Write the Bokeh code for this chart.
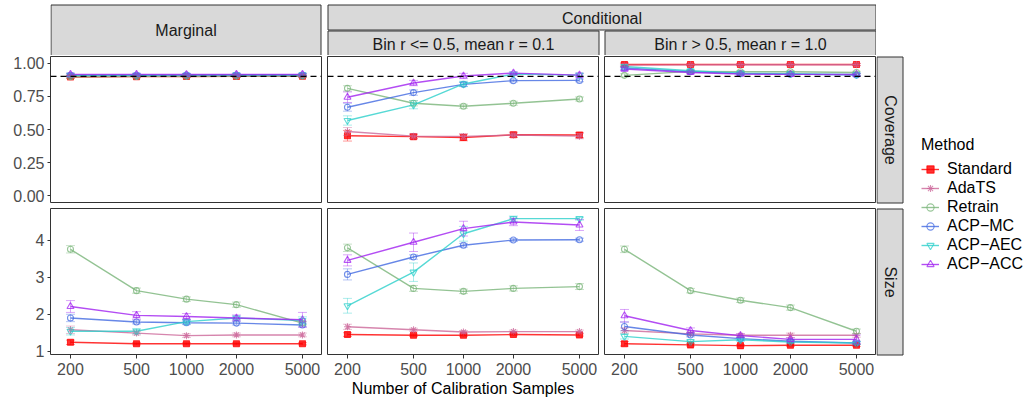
import math
from bokeh.plotting import figure
from bokeh.models import (Range1d, FixedTicker, NumeralTickFormatter, Span, Whisker, TeeHead,
                          ColumnDataSource, Legend, LegendItem)
from bokeh.layouts import row, column
from bokeh.core.properties import value
from bokeh.embed import file_html
from bokeh.resources import INLINE

# ---------------- data ----------------
N = [200, 500, 1000, 2000, 5000]
METHODS = ["Standard", "AdaTS", "Retrain", "ACP-MC", "ACP-AEC", "ACP-ACC"]
LABELS = ["Standard", "AdaTS", "Retrain", "ACP\u2212MC", "ACP\u2212AEC", "ACP\u2212ACC"]
COL_TITLES = ["Marginal", "Bin r <= 0.5, mean r = 0.1", "Bin r > 0.5, mean r = 1.0"]
GROUP_TITLE = "Conditional"
ROW_TITLES = ["Coverage", "Size"]
X_TITLE = "Number of Calibration Samples"
TARGET = 0.9
COV_TICKS = [0.0, 0.25, 0.5, 0.75, 1.0]
SIZE_TICKS = [1, 2, 3, 4]

cov_marginal = {
    "Standard": [0.895, 0.898, 0.899, 0.900, 0.901],
    "AdaTS":    [0.900, 0.901, 0.902, 0.903, 0.902],
    "Retrain":  [0.897, 0.900, 0.901, 0.902, 0.903],
    "ACP-MC":   [0.908, 0.909, 0.910, 0.911, 0.911],
    "ACP-AEC":  [0.910, 0.910, 0.911, 0.913, 0.913],
    "ACP-ACC":  [0.915, 0.915, 0.914, 0.915, 0.915],
}
cov_low = {
    "Standard": [0.453, 0.446, 0.440, 0.460, 0.458],
    "AdaTS":    [0.485, 0.450, 0.448, 0.458, 0.450],
    "Retrain":  [0.810, 0.698, 0.675, 0.698, 0.730],
    "ACP-MC":   [0.668, 0.778, 0.840, 0.868, 0.870],
    "ACP-AEC":  [0.568, 0.686, 0.843, 0.918, 0.910],
    "ACP-ACC":  [0.743, 0.850, 0.903, 0.925, 0.910],
}
cov_high = {
    "Standard": [0.990, 0.990, 0.990, 0.990, 0.990],
    "AdaTS":    [0.985, 0.987, 0.988, 0.988, 0.988],
    "Retrain":  [0.908, 0.938, 0.935, 0.935, 0.930],
    "ACP-MC":   [0.963, 0.935, 0.922, 0.917, 0.910],
    "ACP-AEC":  [0.975, 0.943, 0.925, 0.920, 0.915],
    "ACP-ACC":  [0.955, 0.930, 0.918, 0.915, 0.915],
}
size_marginal = {
    "Standard": [1.24, 1.20, 1.20, 1.20, 1.20],
    "AdaTS":    [1.58, 1.49, 1.42, 1.44, 1.44],
    "Retrain":  [3.76, 2.64, 2.41, 2.26, 1.76],
    "ACP-MC":   [1.90, 1.79, 1.77, 1.76, 1.71],
    "ACP-AEC":  [1.54, 1.54, 1.80, 1.90, 1.83],
    "ACP-ACC":  [2.21, 1.97, 1.94, 1.90, 1.85],
}
size_low = {
    "Standard": [1.45, 1.43, 1.43, 1.45, 1.44],
    "AdaTS":    [1.66, 1.58, 1.52, 1.53, 1.53],
    "Retrain":  [3.80, 2.70, 2.62, 2.70, 2.75],
    "ACP-MC":   [3.08, 3.55, 3.87, 4.01, 4.02],
    "ACP-AEC":  [2.23, 3.14, 4.18, 4.59, 4.59],
    "ACP-ACC":  [3.46, 3.95, 4.32, 4.50, 4.42],
}
size_high = {
    "Standard": [1.20, 1.17, 1.15, 1.16, 1.16],
    "AdaTS":    [1.56, 1.47, 1.43, 1.43, 1.43],
    "Retrain":  [3.76, 2.64, 2.38, 2.18, 1.54],
    "ACP-MC":   [1.67, 1.44, 1.34, 1.27, 1.22],
    "ACP-AEC":  [1.40, 1.26, 1.31, 1.25, 1.22],
    "ACP-ACC":  [1.96, 1.56, 1.42, 1.32, 1.32],
}
cov_marginal_err = {m: [0.01, 0.008, 0.008, 0.008, 0.008] for m in METHODS}
cov_low_err = {
    "Standard": [0.040, 0.015, 0.025, 0.020, 0.020],
    "AdaTS":    [0.030, 0.020, 0.020, 0.015, 0.020],
    "Retrain":  [0.020, 0.020, 0.015, 0.015, 0.015],
    "ACP-MC":   [0.030, 0.020, 0.015, 0.010, 0.010],
    "ACP-AEC":  [0.035, 0.030, 0.020, 0.010, 0.010],
    "ACP-ACC":  [0.040, 0.020, 0.020, 0.010, 0.015],
}
cov_high_err = {m: [0.012, 0.008, 0.008, 0.008, 0.008] for m in METHODS}
size_marginal_err = {
    "Standard": [0.06, 0.03, 0.03, 0.03, 0.03],
    "AdaTS":    [0.10, 0.05, 0.05, 0.05, 0.05],
    "Retrain":  [0.10, 0.07, 0.06, 0.07, 0.05],
    "ACP-MC":   [0.10, 0.05, 0.05, 0.05, 0.05],
    "ACP-AEC":  [0.10, 0.07, 0.06, 0.05, 0.10],
    "ACP-ACC":  [0.16, 0.10, 0.08, 0.08, 0.20],
}
size_low_err = {
    "Standard": [0.05, 0.03, 0.03, 0.03, 0.03],
    "AdaTS":    [0.07, 0.04, 0.04, 0.04, 0.04],
    "Retrain":  [0.10, 0.08, 0.06, 0.07, 0.08],
    "ACP-MC":   [0.15, 0.06, 0.05, 0.04, 0.04],
    "ACP-AEC":  [0.20, 0.25, 0.20, 0.07, 0.04],
    "ACP-ACC":  [0.15, 0.25, 0.20, 0.10, 0.15],
}
size_high_err = {
    "Standard": [0.06, 0.03, 0.03, 0.03, 0.03],
    "AdaTS":    [0.07, 0.04, 0.04, 0.06, 0.05],
    "Retrain":  [0.09, 0.06, 0.06, 0.07, 0.06],
    "ACP-MC":   [0.12, 0.05, 0.04, 0.04, 0.03],
    "ACP-AEC":  [0.07, 0.04, 0.04, 0.04, 0.04],
    "ACP-ACC":  [0.17, 0.07, 0.05, 0.04, 0.12],
}

# ---------------- style ----------------
FONT = "Liberation Sans"
COLORS = {"Standard": "#FF0000", "AdaTS": "#CC6699", "Retrain": "#78B478",
          "ACP-MC": "#4169E1", "ACP-AEC": "#2CCFCB", "ACP-ACC": "#A020F0"}
MARKERS = {"Standard": "square", "AdaTS": "asterisk", "Retrain": "circle",
           "ACP-MC": "circle", "ACP-AEC": "inverted_triangle", "ACP-ACC": "triangle"}
FILLED = {"Standard": True}
MSIZE = {"Standard": 6, "AdaTS": 7, "Retrain": 6, "ACP-MC": 6, "ACP-AEC": 7, "ACP-ACC": 7}
STRIP_FILL = "#D9D9D9"
BORDER = "#333333"
XR = (151.6, 6510)
COV_R = (-0.05, 1.05)
SIZE_R = (0.91, 4.865)


def style_axis(ax):
    ax.axis_line_color = None
    ax.major_tick_line_color = BORDER
    ax.major_tick_out = 4
    ax.major_tick_in = 0
    ax.minor_tick_line_color = None
    ax.major_label_text_font = FONT
    ax.major_label_text_font_size = "16px"
    ax.major_label_text_color = "#4D4D4D"


def make_panel(means, errs, row_i, col_i):
    left = 50 if col_i == 0 else 5
    top = 1 if row_i == 0 else 2
    bottom = 4 if row_i == 0 else 43
    yr = COV_R if row_i == 0 else SIZE_R
    p = figure(x_axis_type="log", x_range=Range1d(*XR), y_range=Range1d(*yr),
               frame_width=271, frame_height=146,
               min_border_left=left, min_border_right=1,
               min_border_top=top, min_border_bottom=bottom,
               x_axis_location=("below" if row_i == 1 else None),
               y_axis_location=("left" if col_i == 0 else None),
               output_backend="svg", toolbar_location=None,
               background_fill_color="white", border_fill_color="white",
               outline_line_color=BORDER, outline_line_width=1)
    p.xgrid.grid_line_color = None
    p.ygrid.grid_line_color = None
    if row_i == 1:
        ax = p.xaxis[0]
        style_axis(ax)
        ax.ticker = FixedTicker(ticks=N, minor_ticks=[])
        ax.formatter = NumeralTickFormatter(format="0")
        ax.major_label_standoff = 4
        if col_i == 1:
            ax.axis_label = X_TITLE
            ax.axis_label_standoff = 2
            ax.axis_label_text_font = FONT
            ax.axis_label_text_font_size = "16px"
            ax.axis_label_text_font_style = "normal"
            ax.axis_label_text_color = "black"
    if col_i == 0:
        ax = p.yaxis[0]
        style_axis(ax)
        ax.major_tick_out = 3
        if row_i == 0:
            ax.ticker = FixedTicker(ticks=COV_TICKS, minor_ticks=[])
            ax.formatter = NumeralTickFormatter(format="0.00")
        else:
            ax.ticker = FixedTicker(ticks=SIZE_TICKS, minor_ticks=[])
            ax.formatter = NumeralTickFormatter(format="0")
        ax.major_label_standoff = 3

    for m in METHODS:
        c = COLORS[m]
        mv = means[m]
        ev = errs[m]
        src = ColumnDataSource(dict(x=N, y=mv,
                                    lo=[a - b for a, b in zip(mv, ev)],
                                    hi=[a + b for a, b in zip(mv, ev)]))
        w = Whisker(source=src, base="x", upper="hi", lower="lo", dimension="height",
                    line_color=c, line_alpha=0.4, line_width=1,
                    upper_head=TeeHead(size=9, line_color=c, line_alpha=0.4, line_width=1),
                    lower_head=TeeHead(size=9, line_color=c, line_alpha=0.4, line_width=1),
                    level="glyph")
        p.add_layout(w)
        p.line("x", "y", source=src, line_color=c, line_width=1.4, line_alpha=0.8)
        p.scatter("x", "y", source=src, marker=MARKERS[m], size=MSIZE[m],
                  line_color=c, line_alpha=0.75, line_width=1.1,
                  fill_color=(c if FILLED.get(m) else None), fill_alpha=0.8)
    if row_i == 0:
        p.add_layout(Span(location=TARGET, dimension="width", line_color="black",
                          line_dash="6 4", line_width=1.2))
    return p


# ---------------- strips (top) ----------------
s1 = figure(x_range=Range1d(50, 322), y_range=Range1d(55, 0),
            frame_width=272, frame_height=55,
            min_border_left=50, min_border_right=0, min_border_top=0, min_border_bottom=0,
            x_axis_location=None, y_axis_location=None,
            output_backend="svg", toolbar_location=None, outline_line_color=None)
s1.grid.grid_line_color = None
s1.quad(left=[50.5], right=[320.5], top=[4.5], bottom=[55], fill_color=STRIP_FILL,
        line_color=BORDER, line_width=1)
s1.text(x=[185.5], y=[30], text=[COL_TITLES[0]], text_font=value(FONT), text_font_size="16px",
        text_color="#1A1A1A", text_align="center", text_baseline="middle")

s2 = figure(x_range=Range1d(322, 876), y_range=Range1d(55, 0),
            frame_width=554, frame_height=55,
            min_border_left=0, min_border_right=0, min_border_top=0, min_border_bottom=0,
            x_axis_location=None, y_axis_location=None,
            output_backend="svg", toolbar_location=None, outline_line_color=None)
s2.grid.grid_line_color = None
s2.quad(left=[327.5, 327.5, 604.5], right=[875.5, 598.5, 875.5],
        top=[4.5, 30.5, 30.5], bottom=[29.5, 55, 55],
        fill_color=STRIP_FILL, line_color=BORDER, line_width=1)
s2.text(x=[601.5, 463, 740], y=[17.5, 43.5, 43.5],
        text=[GROUP_TITLE, COL_TITLES[1], COL_TITLES[2]],
        text_font=value(FONT), text_font_size="16px", text_color="#1A1A1A",
        text_align="center", text_baseline="middle")

# ---------------- panels ----------------
c0 = make_panel(cov_marginal, cov_marginal_err, 0, 0)
c1 = make_panel(cov_low, cov_low_err, 0, 1)
c2 = make_panel(cov_high, cov_high_err, 0, 2)
z0 = make_panel(size_marginal, size_marginal_err, 1, 0)
z1 = make_panel(size_low, size_low_err, 1, 1)
z2 = make_panel(size_high, size_high_err, 1, 2)

# ---------------- right side: row strips + legend ----------------
side = figure(x_range=Range1d(876, 1032), y_range=Range1d(397, 0),
              frame_width=156, frame_height=397,
              min_border_left=0, min_border_right=0, min_border_top=0, min_border_bottom=0,
              x_axis_location=None, y_axis_location=None,
              output_backend="svg", toolbar_location=None, outline_line_color=None)
side.grid.grid_line_color = None
side.quad(left=[876.5, 876.5], right=[902.5, 902.5], top=[56.5, 208.5], bottom=[202.5, 354.5],
          fill_color=STRIP_FILL, line_color=BORDER, line_width=1)
side.text(x=[889.5, 889.5], y=[129.5, 281.5], text=ROW_TITLES, angle=-math.pi / 2,
          text_font=value(FONT), text_font_size="16px", text_color="#1A1A1A",
          text_align="center", text_baseline="middle")

items = []
for m, lab in zip(METHODS, LABELS):
    c = COLORS[m]
    # legend-key renderers: their single point sits outside the visible frame
    lr = side.line(x=[0, 1], y=[2000, 2000], line_color=c, line_width=1.4, line_alpha=0.8)
    sr = side.scatter(x=[0], y=[2000], marker=MARKERS[m], size=MSIZE[m] - 1,
                      line_color=c, line_alpha=0.75, line_width=1.1,
                      fill_color=(c if FILLED.get(m) else None), fill_alpha=0.8)
    items.append(LegendItem(label=lab, renderers=[lr, sr]))
legend = Legend(items=items, location=(45, 124), title="Method",
                title_text_font=FONT, title_text_font_size="16px",
                title_text_font_style="normal", title_text_color="black",
                title_standoff=6,
                label_text_font=FONT, label_text_font_size="16px", label_text_color="black",
                glyph_width=18, glyph_height=18, label_height=18, label_standoff=8,
                spacing=1, padding=0, margin=0,
                border_line_color=None, background_fill_alpha=0)
side.add_layout(legend)

main = column(row(s1, s2), row(c0, c1, c2), row(z0, z1, z2))
p = row(main, side)

open("out.html", "w").write(file_html(p, INLINE))
